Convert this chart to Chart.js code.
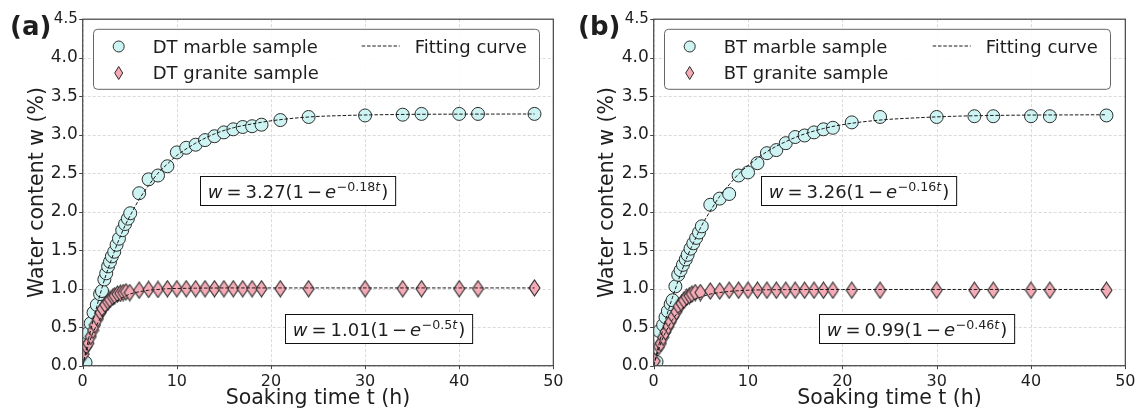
<!DOCTYPE html>
<html><head><meta charset="utf-8">
<script src="https://cdn.jsdelivr.net/npm/chart.js@4.4.1/dist/chart.umd.min.js"></script>
<style>
html,body{margin:0;padding:0;background:#fff;}
#wrap{position:relative;width:1142px;height:416px;overflow:hidden;background:#fff;}
.panel{position:absolute;top:0;height:416px;}
canvas{display:block;}
</style></head><body>
<div id="wrap">
<div class="panel" style="left:0;width:570px"><canvas id="cA" width="570" height="416" style="width:570px;height:416px"></canvas></div>
<div class="panel" style="left:570px;width:572px"><canvas id="cB" width="572" height="416" style="width:572px;height:416px"></canvas></div>
</div>
<script>
// ---------- tick labels ----------
const xTicks = [0, 10, 20, 30, 40, 50];
const yTicks = [0, 0.5, 1, 1.5, 2, 2.5, 3, 3.5, 4, 4.5];

// ---------- panel (a): DT ----------
const dtMarbleT = [0.3,0.55,0.85,1.15,1.5,1.85,2.05,2.3,2.5,2.7,2.9,3.1,3.35,3.6,3.85,4.2,4.5,4.8,5.05,6,7,8,9,10,11,12,13,14,15,16,17,18,19,21,24,30,34,36,40,42,48];
const dtMarbleW = [0.04,0.42,0.55,0.69,0.79,0.93,0.97,1.12,1.2,1.29,1.35,1.42,1.48,1.57,1.65,1.76,1.84,1.91,1.98,2.24,2.42,2.47,2.59,2.77,2.83,2.87,2.93,2.98,3.03,3.07,3.10,3.11,3.13,3.19,3.23,3.25,3.26,3.27,3.27,3.27,3.27];
const dtGraniteT = [0.1,0.4,0.6,0.85,1.1,1.3,1.6,1.9,2.1,2.4,2.7,2.9,3.2,3.4,3.7,4.0,4.3,4.6,5.0,6,7,8,9,10,11,12,13,14,15,16,17,18,19,21,24,30,34,36,40,42,48];
const dtGraniteW = [0.15,0.25,0.29,0.38,0.46,0.53,0.61,0.69,0.74,0.79,0.83,0.86,0.89,0.91,0.93,0.94,0.95,0.96,0.95,0.98,0.99,0.99,1.0,1.0,1.0,1.0,1.0,1.0,1.0,1.0,1.0,1.0,1.0,1.0,1.0,1.0,1.0,1.0,1.0,1.0,1.01];

// ---------- panel (b): BT ----------
const btMarbleT = [0.3,0.6,1.0,1.25,1.5,1.8,2.0,2.3,2.6,2.85,3.1,3.4,3.6,3.9,4.2,4.5,4.8,5.1,6,7,8,9,10,11,12,13,14,15,16,17,18,19,21,24,30,34,36,40,42,48];
const btMarbleW = [0.05,0.45,0.53,0.63,0.71,0.8,0.85,1.03,1.18,1.24,1.31,1.38,1.44,1.52,1.59,1.66,1.73,1.81,2.09,2.17,2.23,2.47,2.51,2.63,2.76,2.8,2.89,2.97,2.99,3.03,3.07,3.09,3.16,3.23,3.23,3.24,3.24,3.24,3.24,3.25];
const btGraniteT = [0.1,0.55,0.75,1.0,1.25,1.55,1.8,2.1,2.4,2.65,2.95,3.2,3.5,3.8,4.05,4.4,4.95,6,7,8,9,10,11,12,13,14,15,16,17,18,19,21,24,30,34,36,40,42,48];
const btGraniteW = [0.06,0.25,0.29,0.37,0.44,0.51,0.57,0.64,0.7,0.77,0.81,0.85,0.89,0.91,0.93,0.95,0.95,0.97,0.97,0.98,0.98,0.98,0.98,0.98,0.98,0.98,0.98,0.98,0.98,0.98,0.98,0.98,0.98,0.98,0.98,0.98,0.98,0.98,0.98];

// ---------- fitting curves ----------
const fitT = [0,0.5,1,1.5,2,2.5,3,3.5,4,4.5,5,6,7,8,9,10,12,14,16,18,20,24,28,32,36,40,44,48];
const dtMarbleFit = [0,0.28,0.54,0.77,0.99,1.19,1.36,1.53,1.68,1.82,1.94,2.16,2.34,2.50,2.62,2.73,2.89,3.01,3.09,3.14,3.18,3.23,3.25,3.26,3.265,3.267,3.268,3.269];
const dtGraniteFit = [0,0.22,0.40,0.53,0.64,0.72,0.78,0.83,0.87,0.90,0.93,0.96,0.98,0.99,1.0,1.003,1.007,1.009,1.01,1.01,1.01,1.01,1.01,1.01,1.01,1.01,1.01,1.01];
const btMarbleFit = [0,0.25,0.48,0.70,0.89,1.07,1.24,1.40,1.54,1.67,1.80,2.01,2.20,2.35,2.49,2.60,2.78,2.91,3.01,3.08,3.13,3.19,3.22,3.24,3.25,3.255,3.257,3.259];
const btGraniteFit = [0,0.20,0.37,0.49,0.60,0.68,0.74,0.79,0.83,0.87,0.89,0.93,0.95,0.965,0.974,0.98,0.986,0.988,0.989,0.99,0.99,0.99,0.99,0.99,0.99,0.99,0.99,0.99];

// ---------- text ----------
const dtLabels = ['DT marble sample', 'DT granite sample', 'Fitting curve'];
const btLabels = ['BT marble sample', 'BT granite sample', 'Fitting curve'];
const dtEq = [['3.27', '0.18'], ['1.01', '0.5']];
const btEq = [['3.26', '0.16'], ['0.99', '0.46']];
const dtEqAt = [[22.8, 2.28], [31.45, 0.479]];
const btEqAt = [[21.73, 2.28], [27.86, 0.477]];

const FONT = '"DejaVu Sans", Verdana, sans-serif';
const CYAN = '#cdf4f2';
const PINK = '#f5abb6';
const EDGE = '#2b2b2b';
const TXT = '#1e1e1e';

function thinDiamond(w, h) {
  const c = document.createElement('canvas');
  c.width = w + 2; c.height = h + 2;
  const g = c.getContext('2d');
  g.beginPath();
  g.moveTo(c.width / 2, 1);
  g.lineTo(c.width - 1, c.height / 2);
  g.lineTo(c.width / 2, c.height - 1);
  g.lineTo(1, c.height / 2);
  g.closePath();
  g.fillStyle = PINK; g.fill();
  g.lineWidth = 1.1; g.strokeStyle = EDGE; g.stroke();
  return c;
}
const diamondImg = thinDiamond(11, 16);

function pts(t, w) { return t.map((v, i) => ({x: v, y: w[i]})); }

function drawEq(ctx, cx, cy, coef, rate) {
  const size = 18;
  const parts = [
    {t: 'w', it: 1, g: 0},
    {t: '=', g: 0.22},
    {t: coef + '(1', g: 0.22},
    {t: '\u2212', g: 0.16},
    {t: 'e', it: 1, g: 0.16},
    {t: '\u2212' + rate, sup: 1, g: 0.04},
    {t: 't', it: 1, sup: 1, g: 0},
    {t: ')', g: 0.06}
  ];
  let total = 0;
  const widths = parts.map(p => {
    const fs = p.sup ? size * 0.7 : size;
    ctx.font = (p.it ? 'italic ' : '') + fs + 'px ' + FONT;
    const mw = ctx.measureText(p.t).width;
    total += p.g * size + mw;
    return mw;
  });
  const padX = 7.3, h = 29;
  const bw = total + 2 * padX;
  const bx = Math.round(cx - bw / 2) + 0.5, by = Math.round(cy - h / 2) + 0.5;
  ctx.save();
  ctx.fillStyle = '#fff';
  ctx.fillRect(bx, by, bw, h);
  ctx.strokeStyle = '#111'; ctx.lineWidth = 1;
  ctx.strokeRect(bx, by, bw, h);
  ctx.fillStyle = TXT;
  ctx.textBaseline = 'alphabetic';
  ctx.textAlign = 'left';
  let x = bx + padX;
  const base = by + h - 7.3;
  parts.forEach((p, i) => {
    x += p.g * size;
    const fs = p.sup ? size * 0.7 : size;
    ctx.font = (p.it ? 'italic ' : '') + fs + 'px ' + FONT;
    ctx.fillText(p.t, x, p.sup ? base - 7 : base);
    x += widths[i];
  });
  ctx.restore();
}

function decoPlugin(cfg) {
  return {
    id: 'deco',
    beforeDatasetsDraw(chart) {
      const {ctx, chartArea: a, scales} = chart;
      ctx.save();
      ctx.strokeStyle = '#d6d6d6';
      ctx.lineWidth = 0.9;
      ctx.setLineDash([3, 2]);
      xTicks.forEach(v => {
        const px = Math.round(scales.x.getPixelForValue(v)) + 0.5;
        ctx.beginPath(); ctx.moveTo(px, a.top); ctx.lineTo(px, a.bottom); ctx.stroke();
      });
      yTicks.forEach(v => {
        const py = Math.round(scales.y.getPixelForValue(v)) + 0.5;
        ctx.beginPath(); ctx.moveTo(a.left, py); ctx.lineTo(a.right, py); ctx.stroke();
      });
      ctx.setLineDash([]);
      ctx.strokeStyle = '#444';
      ctx.lineWidth = 1;
      xTicks.forEach(v => {
        const px = Math.round(scales.x.getPixelForValue(v)) + 0.5;
        ctx.beginPath(); ctx.moveTo(px, a.bottom); ctx.lineTo(px, a.bottom + 3.5); ctx.stroke();
      });
      yTicks.forEach(v => {
        const py = Math.round(scales.y.getPixelForValue(v)) + 0.5;
        ctx.beginPath(); ctx.moveTo(a.left - 3.5, py); ctx.lineTo(a.left, py); ctx.stroke();
      });
      ctx.restore();
    },
    afterDatasetsDraw(chart) {
      const {ctx, chartArea: a, scales} = chart;
      ctx.save();
      // frame
      ctx.strokeStyle = '#444';
      ctx.lineWidth = 1.2;
      ctx.strokeRect(a.left, a.top, a.right - a.left, a.bottom - a.top);

      // equation boxes
      cfg.eq.forEach((e, i) => {
        const cx = scales.x.getPixelForValue(cfg.eqAt[i][0]);
        const cy = scales.y.getPixelForValue(cfg.eqAt[i][1]);
        drawEq(ctx, cx, cy, e[0], e[1]);
      });

      // legend
      const lx = a.left + 10, ly = 29.3, lw = 446, lh = 60;
      ctx.beginPath();
      ctx.roundRect(Math.round(lx) + 0.5, ly, lw, lh, 4);
      ctx.fillStyle = 'rgba(255,255,255,0.92)';
      ctx.fill();
      ctx.strokeStyle = '#666'; ctx.lineWidth = 1;
      ctx.stroke();
      const r1 = 46.5, r2 = 73;
      const mx = a.left + 36;
      ctx.beginPath(); ctx.arc(mx, r1, 5.5, 0, Math.PI * 2);
      ctx.fillStyle = CYAN; ctx.fill(); ctx.strokeStyle = EDGE; ctx.lineWidth = 1; ctx.stroke();
      ctx.beginPath();
      ctx.moveTo(mx, r2 - 6.5); ctx.lineTo(mx + 4, r2); ctx.lineTo(mx, r2 + 6.5); ctx.lineTo(mx - 4, r2); ctx.closePath();
      ctx.fillStyle = PINK; ctx.fill(); ctx.strokeStyle = EDGE; ctx.stroke();
      ctx.beginPath();
      ctx.setLineDash([3.5, 1.8]);
      ctx.strokeStyle = '#1a1a1a'; ctx.lineWidth = 1;
      ctx.moveTo(a.left + 279, r1 - 0.5); ctx.lineTo(a.left + 317, r1 - 0.5); ctx.stroke();
      ctx.setLineDash([]);
      ctx.fillStyle = TXT;
      ctx.font = '18px ' + FONT;
      ctx.textAlign = 'left'; ctx.textBaseline = 'alphabetic';
      ctx.fillText(cfg.labels[0], a.left + 70, 52.8);
      ctx.fillText(cfg.labels[1], a.left + 70, 79.2);
      ctx.fillText(cfg.labels[2], a.left + 332, 52.8);

      // panel label
      ctx.font = 'bold 26px ' + FONT;
      ctx.fillText(cfg.tag, cfg.tagX, 35);
      ctx.restore();
    }
  };
}

function makePanel(id, cfg) {
  return new Chart(document.getElementById(id), {
    type: 'scatter',
    data: {
      datasets: [
        {label: 'fit marble', data: pts(fitT, cfg.mFit), showLine: true, pointRadius: 0, pointHoverRadius: 0,
         borderColor: '#1a1a1a', borderWidth: 1, borderDash: [3.5, 1.8], cubicInterpolationMode: 'monotone', fill: false, order: 0, clip: 0},
        {label: 'fit granite', data: pts(fitT, cfg.gFit), showLine: true, pointRadius: 0, pointHoverRadius: 0,
         borderColor: '#1a1a1a', borderWidth: 1, borderDash: [3.5, 1.8], cubicInterpolationMode: 'monotone', fill: false, order: 0, clip: 0},
        {label: cfg.labels[1], data: pts(cfg.gT, cfg.gW), pointStyle: diamondImg, pointRadius: 7, order: 1, clip: 0},
        {label: cfg.labels[0], data: pts(cfg.mT, cfg.mW), pointStyle: 'circle', pointRadius: 6.5,
         backgroundColor: CYAN, borderColor: EDGE, borderWidth: 1, order: 2, clip: 0}
      ]
    },
    options: {
      responsive: false, animation: false, devicePixelRatio: 1,
      layout: {padding: {left: 0, top: 19.2, right: cfg.padRight, bottom: 0}},
      plugins: {legend: {display: false}, tooltip: {enabled: false}},
      events: [],
      scales: {
        x: {
          type: 'linear', min: 0, max: 50,
          afterBuildTicks: s => { s.ticks = xTicks.map(v => ({value: v})); },
          afterFit: s => { s.height = 50.3; },
          grid: {display: false, drawTicks: false},
          border: {display: false},
          ticks: {font: {family: FONT, size: 16}, color: TXT, padding: 6.5, maxRotation: 0, autoSkip: false,
                  callback: v => String(v)},
          title: {display: true, text: 'Soaking time t (h)', font: {family: FONT, size: 20.5}, color: TXT,
                  padding: {top: 0, bottom: 5}}
        },
        y: {
          type: 'linear', min: 0, max: 4.5,
          afterBuildTicks: s => { s.ticks = yTicks.map(v => ({value: v})); },
          afterFit: s => { s.width = cfg.left; },
          grid: {display: false, drawTicks: false},
          border: {display: false},
          ticks: {font: c => ({family: FONT, size: (c.tick && c.tick.value === 4.5) ? 15 : 17}), color: TXT, padding: 5,
                  autoSkip: false, callback: v => Number(v).toFixed(1)},
          title: {display: true, text: 'Water content w (%)', font: {family: FONT, size: 20.5}, color: TXT,
                  padding: {top: 25, bottom: 0}}
        }
      }
    },
    plugins: [decoPlugin(cfg)]
  });
}

makePanel('cA', {
  mT: dtMarbleT, mW: dtMarbleW, gT: dtGraniteT, gW: dtGraniteW, mFit: dtMarbleFit, gFit: dtGraniteFit,
  labels: dtLabels, eq: dtEq, eqAt: dtEqAt, tag: '(a)', tagX: 10, left: 82.7, padRight: 11.7
});
makePanel('cB', {
  mT: btMarbleT, mW: btMarbleW, gT: btGraniteT, gW: btGraniteW, mFit: btMarbleFit, gFit: btGraniteFit,
  labels: btLabels, eq: btEq, eqAt: btEqAt, tag: '(b)', tagX: 8, left: 83.7, padRight: 13
});
</script>
</body></html>
